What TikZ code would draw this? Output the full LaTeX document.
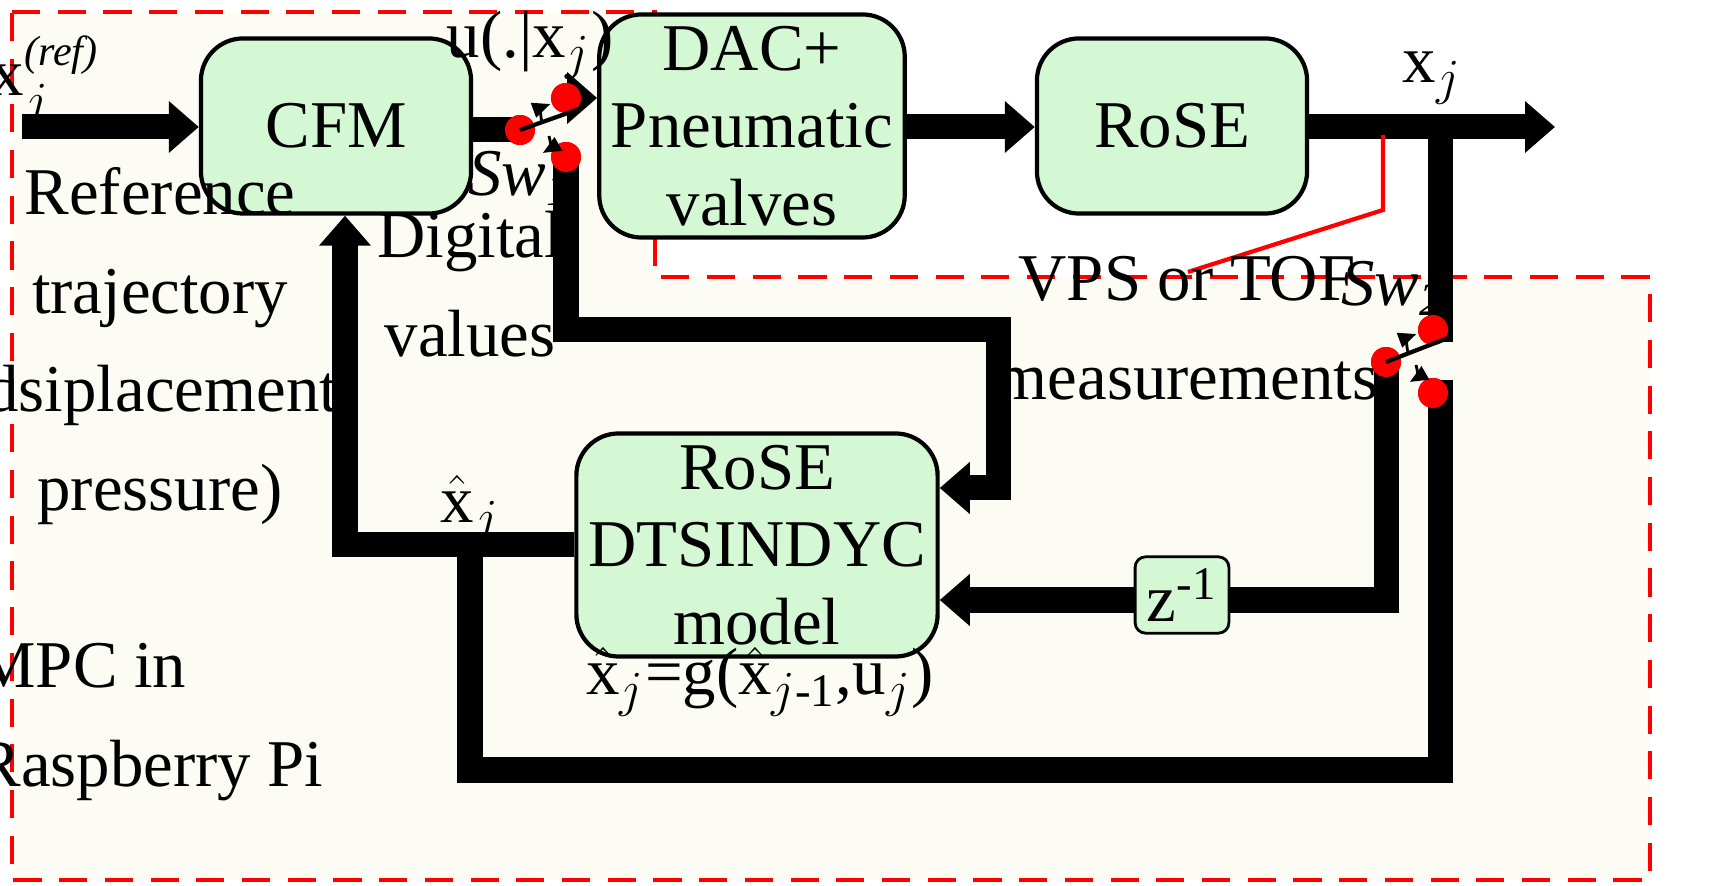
\documentclass[tikz,border=0pt]{standalone}
\usepackage{amsmath}
\usepackage{fontspec}
\setmainfont{Liberation Serif}
\usetikzlibrary{arrows.meta, positioning}
\definecolor{boxgreen}{RGB}{212,247,212}
\definecolor{mpcback}{RGB}{252,252,244}
\tikzset{
    blocknode/.style = {draw, rectangle, rounded corners=1.2em, fill=boxgreen, line width=1.2pt,
      minimum width=2.7cm, minimum height=1.75cm, align=center, font=\fontsize{19}{22}\selectfont},
    textnode/.style = {draw=none, fill=none, inner sep=0em, align=center, font=\fontsize{19}{22}\selectfont},
    dotnode/.style = {fill=red, circle, minimum size=0.3cm, inner sep=0em},
    bus/.style = {line width=0.25cm},
    connect/.style = {bus, -{Triangle[length=0.3cm, width=0.5cm]}},
    swline/.style = {line width=1.2pt},
    swarrow/.style = {line width=0.8pt, -{Triangle[length=0.18cm, width=0.15cm]}}
}
\begin{document}
\begin{tikzpicture}[x=0.01cm, y=-0.01cm]
    \useasboundingbox (0,0) rectangle (1733,886);
    % MPC region
    \fill[mpcback] (12,12) -- (655,12) -- (655,277) -- (1650,277) -- (1650,880) -- (12,880) -- cycle;
    \draw[red, dashed, line width=1.2pt, dash pattern=on 8pt off 5pt] (12,12) -- (655,12) -- (655,277) -- (1650,277) -- (1650,880) -- (12,880) -- cycle;

    % blocks
    \node [name=cfm, blocknode] at (336,126) {CFM};
    \node [name=dac, blocknode] at (752,126) {DAC+\\Pneumatic\\valves};
    \node [name=rose, blocknode] at (1172,126) {RoSE};
    \node [name=model, blocknode] at (757,545) {RoSE\\DTSINDYC\\model};
    \node [name=zinv, draw, rectangle, rounded corners=0.3em, fill=boxgreen, line width=0.8pt,
        minimum width=0.85cm, minimum height=0.56cm, font=\fontsize{19}{22}\selectfont] at (1182,595) {z$^{\text{-1}}$};

    % switch points
    \node [name=s1a, dotnode] at (520,130) {};
    \node [name=s1b, dotnode] at (566,98) {};
    \node [name=s1c, dotnode] at (566,157) {};
    \node [name=s2a, dotnode] at (1386,362) {};
    \node [name=s2b, dotnode] at (1433,330) {};
    \node [name=s2c, dotnode] at (1433,393) {};
    \coordinate (start) at (22,127);
    \coordinate (out) at (1555,127);
    \coordinate (tap) at (1440,127);

    % forward path
    \draw [connect] (start) -- (cfm.west |- start);
    \draw [bus] (cfm.east |- s1a) -- (s1a.center);
    \draw [connect] (s1b.center) -- (dac.west |- s1b);
    \draw [connect] (dac.east |- start) -- (rose.west |- start);
    \draw [connect] (rose.east |- start) -- (out);
    \draw [bus] (tap) -- (tap |- s2b.center) -- (s2b.center);
    % feedback paths
    \draw [connect] (s1c.center) -- (566,330) -- (998,330) -- (998,488) -- (model.east |- 0,488);
    \draw [bus] (s2a.center) -- (1386,600) -- (zinv.east |- 0,600);
    \draw [connect] (zinv.west |- 0,600) -- (model.east |- 0,600);
    \draw [connect] (model.west |- 0,545) -- (345,545) -- (cfm.south -| 345,0);
    \draw [bus] (470,545) -- (470,770) -- (1440,770) -- (1440,393) -- (s2c.center);
    \node at (s1a) [dotnode] {};
    \node at (s1b) [dotnode] {};
    \node at (s1c) [dotnode] {};
    \node at (s2a) [dotnode] {};
    \node at (s2b) [dotnode] {};
    \node at (s2c) [dotnode] {};

    % switch levers
    \draw [swline] (s1a.center) -- (582,108);
    \draw [swarrow] (549,136) arc (-20:60:14);
    \draw [swarrow] (542,122) arc (160:250:14) ;
    \draw [swline] (s2a.center) -- (1448,338);
    \draw [swarrow] (1416,365) arc (-20:60:14);
    \draw [swarrow] (1408,352) arc (160:250:14);

    % sensor line
    \draw [red, line width=1.2pt] (1383,135) -- (1383,210) -- (1188,272);

    % labels
    \node [name=xref, textnode] at (45,82) {x$_{j}^{\text{\fontsize{12}{12}\selectfont\itshape(ref)}}$};
    \node [name=ulab, textnode] at (530,45) {u(.|x$_{j}$)};
    \node [name=sw1, textnode] at (520,178) {\itshape Sw$_{\text{1}}$};
    \node [name=sw2, textnode] at (1393,288) {\itshape Sw$_{\text{2}}$};
    \node [name=xj, textnode] at (1432,78) {x$_{j}$};
    \node [name=reftraj, textnode] at (160,346) {Reference\\[6pt]trajectory\\[6pt](dsiplacement/\\[6pt]pressure)};
    \node [name=digital, textnode] at (470,284) {Digital\\[6pt]values};
    \node [name=vps, textnode] at (1187,328) {VPS or TOF\\[6pt]measurements};
    \node [name=xhat, textnode] at (470,510) {$\hat{\text{x}}_{j}$};
    \node [name=eqn, textnode] at (760,682) {$\hat{\text{x}}_{j}$=g($\hat{\text{x}}_{j\text{-1}}$,u$_{j}$)};
    \node [name=mpc, textnode, align=left] at (150,722) {MPC in\\[6pt]Raspberry Pi};
\end{tikzpicture}
\end{document}
